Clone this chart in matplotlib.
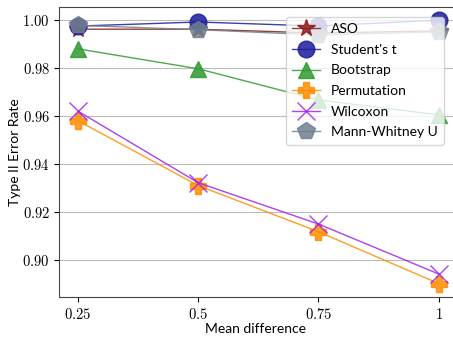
import matplotlib
matplotlib.use("Agg")
import matplotlib.pyplot as plt
import numpy as np

plt.rcParams['mathtext.fontset'] = 'cm'
plt.rcParams['font.family'] = ['Lato', 'DejaVu Sans']

# values
mean_diff = [0.25, 0.5, 0.75, 1.0]
x_ticklabels = ['0.25', '0.5', '0.75', '1']
aso = [0.9962, 0.9962, 0.9946, 0.9955]
student_t = [0.9975, 0.9992, 0.9975, 1.0000]
bootstrap = [0.9880, 0.9797, 0.9667, 0.9605]
permutation = [0.9580, 0.9310, 0.9118, 0.8902]
wilcoxon = [0.9620, 0.9322, 0.9150, 0.8942]
mann_whitney = [0.9978, 0.9960, 0.9938, 0.9951]
y_ticks = [0.90, 0.92, 0.94, 0.96, 0.98, 1.00]

series = [
    ('ASO', aso, '#8b1a1a', '*', 13),
    ("Student's t", student_t, '#1c1c9c', 'o', 12),
    ('Bootstrap', bootstrap, '#2e9a2e', '^', 12),
    ('Permutation', permutation, '#ff8c00', 'P', 12),
    ('Wilcoxon', wilcoxon, '#a020f0', 'x', 13),
    ('Mann-Whitney U', mann_whitney, '#708090', 'p', 13),
]

fig = plt.figure(figsize=(4.53, 3.39), dpi=100)
ax = fig.add_axes([0.130, 0.124, 0.870, 0.855])

for name, vals, col, mk, ms in series:
    ax.plot(mean_diff, vals, color=col, marker=mk, markersize=ms, linewidth=1.0,
            alpha=0.85, label=name)

ax.set_xlim(0.21, 1.03)
ax.set_ylim(0.8846, 1.0054)
ax.set_xticks(mean_diff)
ax.set_xticklabels(['$' + s + '$' for s in x_ticklabels], fontsize=10.5)
ax.set_yticks(y_ticks)
ax.set_yticklabels(['$%.2f$' % v for v in y_ticks], fontsize=10.5)
ax.tick_params(axis='y', pad=3)
ax.yaxis.grid(True, color='#bbbbbb', linewidth=0.8)
ax.set_axisbelow(True)
ax.spines['right'].set_visible(False)
for s in ['left', 'bottom', 'top']:
    ax.spines[s].set_color('#444444')

ax.set_xlabel('Mean difference', fontsize=10, labelpad=1)
ax.set_ylabel('Type II Error Rate', fontsize=10, labelpad=1)
ax.legend(loc='upper right', fontsize=10, framealpha=0.8, borderpad=0.45,
          handlelength=2.0, handletextpad=0.8, labelspacing=0.62,
          bbox_to_anchor=(0.995, 0.99))

fig.savefig('out.png', dpi=100)
